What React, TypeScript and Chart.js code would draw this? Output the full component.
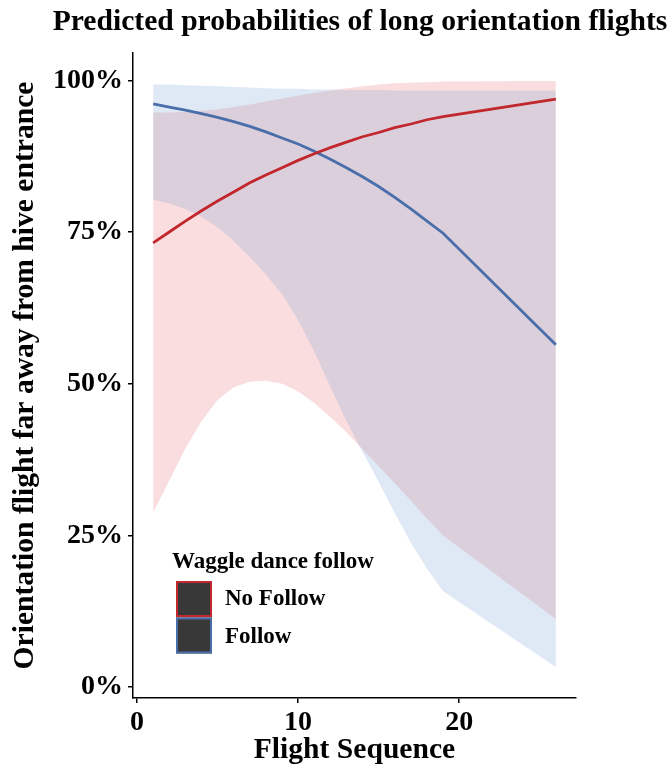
import React, { useEffect, useRef } from 'react';
import { Chart, registerables } from 'chart.js';

Chart.register(...registerables);

const FONT = "'Liberation Serif', 'Times New Roman', serif";

const CHART_TITLE = 'Predicted probabilities of long orientation flights';
const X_TITLE = 'Flight Sequence';
const Y_TITLE = 'Orientation flight far away from hive entrance';
const LEGEND_TITLE = 'Waggle dance follow';
const SERIES = ['No Follow', 'Follow'];
const LINE_COLORS = ['#c1272d', '#4a6ea9'];
const BAND_COLORS = ['rgba(230,100,110,0.22)', 'rgba(110,155,210,0.22)'];

const X_TICKS = [0, 10, 20];
const Y_TICKS = [0, 0.25, 0.5, 0.75, 1];

const FLIGHT_SEQ = [1, 2, 3, 4, 5, 6, 7, 8, 9, 10, 11, 12, 13, 14, 15, 16, 17, 18, 19, 26];

const NO_FOLLOW_FIT = [0.732, 0.75, 0.768, 0.785, 0.801, 0.816, 0.831, 0.844, 0.856, 0.868, 0.879, 0.889, 0.898, 0.907, 0.914, 0.922, 0.928, 0.935, 0.94, 0.969];
const NO_FOLLOW_LOW = [0.288, 0.34, 0.393, 0.438, 0.473, 0.494, 0.503, 0.505, 0.5, 0.487, 0.468, 0.445, 0.42, 0.392, 0.364, 0.336, 0.307, 0.278, 0.25, 0.112];
const NO_FOLLOW_HIGH = [0.947, 0.947, 0.948, 0.95, 0.952, 0.956, 0.96, 0.965, 0.97, 0.975, 0.979, 0.983, 0.987, 0.99, 0.993, 0.995, 0.996, 0.997, 0.998, 0.999];

const FOLLOW_FIT = [0.961, 0.956, 0.951, 0.945, 0.939, 0.932, 0.924, 0.915, 0.905, 0.895, 0.883, 0.87, 0.856, 0.841, 0.825, 0.807, 0.788, 0.768, 0.748, 0.564];
const FOLLOW_LOW = [0.803, 0.797, 0.788, 0.775, 0.758, 0.735, 0.709, 0.68, 0.648, 0.605, 0.553, 0.495, 0.438, 0.388, 0.338, 0.287, 0.238, 0.195, 0.158, 0.033];
const FOLLOW_HIGH = [0.993, 0.993, 0.992, 0.991, 0.99, 0.989, 0.988, 0.987, 0.986, 0.986, 0.985, 0.985, 0.984, 0.984, 0.984, 0.983, 0.983, 0.983, 0.983, 0.983];

const pts = (ys: number[]) => FLIGHT_SEQ.map((x, i) => ({ x, y: ys[i] }));

const titlePlugin = {
  id: 'customTitle',
  afterDraw(chart: any) {
    const { ctx } = chart;
    ctx.save();
    ctx.fillStyle = '#000';
    ctx.font = `bold 29.6px ${FONT}`;
    ctx.textAlign = 'center';
    ctx.textBaseline = 'alphabetic';
    ctx.fillText(CHART_TITLE, 360, 30);
    ctx.restore();
  },
};

const legendPlugin = {
  id: 'customLegend',
  afterDraw(chart: any) {
    const { ctx } = chart;
    ctx.save();
    ctx.fillStyle = '#000';
    ctx.font = `bold 23px ${FONT}`;
    ctx.textAlign = 'left';
    ctx.textBaseline = 'alphabetic';
    ctx.fillText(LEGEND_TITLE, 172, 568);
    SERIES.forEach((name, i) => {
      const top = 581 + i * 36.5;
      ctx.fillStyle = '#383838';
      ctx.fillRect(176, top, 36, 36);
      ctx.strokeStyle = LINE_COLORS[i];
      ctx.lineWidth = 2;
      ctx.strokeRect(177, top + 1, 34, 34);
      ctx.fillStyle = '#000';
      ctx.font = `bold 23px ${FONT}`;
      ctx.fillText(name, 225, 605 + i * 37.5);
    });
    ctx.restore();
  },
};

export default function App() {
  const ref = useRef<HTMLCanvasElement>(null);

  useEffect(() => {
    const canvas = ref.current;
    if (!canvas) return;
    const tickFont = { family: FONT, size: 28, weight: 'bold' as const };
    const titleFont = { family: FONT, size: 29.6, weight: 'bold' as const };
    const chart = new Chart(canvas, {
      type: 'line',
      data: {
        datasets: [
          {
            label: SERIES[0],
            data: pts(NO_FOLLOW_FIT),
            borderColor: LINE_COLORS[0],
            borderWidth: 2.8,
            fill: false,
            pointRadius: 0,
          },
          {
            label: SERIES[1],
            data: pts(FOLLOW_FIT),
            borderColor: LINE_COLORS[1],
            borderWidth: 2.8,
            fill: false,
            pointRadius: 0,
          },
          {
            label: SERIES[1] + ' upper',
            data: pts(FOLLOW_HIGH),
            borderWidth: 0,
            borderColor: 'rgba(0,0,0,0)',
            backgroundColor: BAND_COLORS[1],
            fill: '+1',
            pointRadius: 0,
          },
          {
            label: SERIES[1] + ' lower',
            data: pts(FOLLOW_LOW),
            borderWidth: 0,
            borderColor: 'rgba(0,0,0,0)',
            fill: false,
            pointRadius: 0,
          },
          {
            label: SERIES[0] + ' upper',
            data: pts(NO_FOLLOW_HIGH),
            borderWidth: 0,
            borderColor: 'rgba(0,0,0,0)',
            backgroundColor: BAND_COLORS[0],
            fill: '+1',
            pointRadius: 0,
          },
          {
            label: SERIES[0] + ' lower',
            data: pts(NO_FOLLOW_LOW),
            borderWidth: 0,
            borderColor: 'rgba(0,0,0,0)',
            fill: false,
            pointRadius: 0,
          },
        ],
      },
      options: {
        animation: false,
        responsive: false,
        devicePixelRatio: 1,
        layout: { padding: { top: 53, right: 96, left: 0, bottom: 0 } },
        elements: { line: { tension: 0 }, point: { radius: 0 } },
        plugins: {
          legend: { display: false },
          tooltip: { enabled: false },
          title: { display: false },
        },
        scales: {
          x: {
            type: 'linear',
            min: -0.25,
            max: 27.25,
            afterBuildTicks: (s: any) => {
              s.ticks = X_TICKS.map((v) => ({ value: v }));
            },
            afterFit: (s: any) => {
              s.height = 78;
            },
            grid: { drawOnChartArea: false, drawTicks: true, tickLength: 5, color: '#000', lineWidth: 1.5 },
            border: { display: true, color: '#000', width: 1.5 },
            ticks: { color: '#000', font: tickFont, padding: 3, maxRotation: 0, autoSkip: false },
            title: { display: true, text: X_TITLE, color: '#000', font: titleFont, padding: { top: 0, bottom: 8 } },
          },
          y: {
            type: 'linear',
            min: -0.018,
            max: 1.045,
            afterBuildTicks: (s: any) => {
              s.ticks = Y_TICKS.map((v) => ({ value: v }));
            },
            afterFit: (s: any) => {
              s.width = 133;
            },
            grid: { drawOnChartArea: false, drawTicks: true, tickLength: 5, color: '#000', lineWidth: 1.5 },
            border: { display: true, color: '#000', width: 1.5 },
            ticks: {
              color: '#000',
              font: tickFont,
              padding: 5,
              autoSkip: false,
              callback: (v: any) => `${Math.round(Number(v) * 100)}%`,
            },
            title: { display: true, text: Y_TITLE, color: '#000', font: titleFont, padding: { top: 8, bottom: 0 } },
          },
        },
      },
      plugins: [titlePlugin, legendPlugin],
    });
    return () => chart.destroy();
  }, []);

  return (
    <div style={{ position: 'absolute', left: 0, top: 0, width: 672, height: 776, background: '#fff' }}>
      <canvas ref={ref} width={672} height={776} style={{ display: 'block' }} />
    </div>
  );
}
